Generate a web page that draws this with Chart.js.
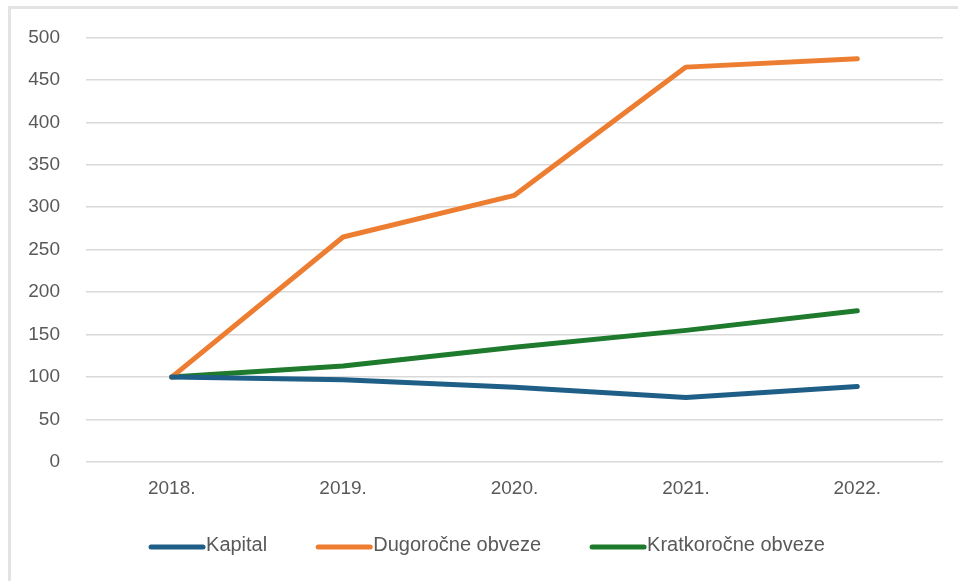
<!DOCTYPE html>
<html>
<head>
<meta charset="utf-8">
<script src="https://cdn.jsdelivr.net/npm/chart.js@4.4.1/dist/chart.umd.min.js"></script>
<style>
    html, body { margin: 0; padding: 0; background: #fff; }
    #wrap { position: relative; width: 958px; height: 581px; }
    #frame {
        position: absolute; left: 8px; top: 6px; right: 0; bottom: 0;
        border-top: 3px solid #e3e3e3; border-left: 3px solid #e3e3e3;
        pointer-events: none;
    }
</style>
</head>
<body>
<div id="wrap">
    <canvas id="chart" width="958" height="581"></canvas>
    <div id="frame"></div>
</div>
<script>
// --- Data ---
const years = ['2018.', '2019.', '2020.', '2021.', '2022.'];
const kapital = [100, 97, 88, 76, 89];
const dugorocne = [100, 265, 314, 465, 475];
const kratkorocne = [100, 113, 135, 155, 178];
const yTicks = [0, 50, 100, 150, 200, 250, 300, 350, 400, 450, 500];

const FONT = "'Liberation Sans', Arial, sans-serif";
const TEXT = '#595959';

function line(label, data, color) {
    return {
        label: label,
        data: data,
        borderColor: color,
        backgroundColor: color,
        borderWidth: 5,
        pointRadius: 0,
        tension: 0,
        borderJoinStyle: 'round',
        borderCapStyle: 'round'
    };
}

// --- Legend: line sample glued to its label, like the Excel original ---
const bottomLegend = {
    id: 'bottomLegend',
    afterDraw(chart) {
        const c = chart.ctx;
        const sample = 56, gap = 49, centerX = 487, y = 546;
        c.save();
        c.font = '20px ' + FONT;
        c.textBaseline = 'middle';
        const items = chart.data.datasets.map(ds => ({
            ds: ds,
            w: c.measureText(ds.label).width
        }));
        const total = items.reduce((s, it) => s + sample + 1 + it.w, 0) + gap * (items.length - 1);
        let x = centerX - total / 2;
        items.forEach(it => {
            c.strokeStyle = it.ds.borderColor;
            c.lineWidth = 5;
            c.lineCap = 'round';
            c.beginPath();
            c.moveTo(x + 2, y + 1);
            c.lineTo(x + sample - 2, y + 1);
            c.stroke();
            c.fillStyle = TEXT;
            c.fillText(it.ds.label, x + sample + 1, y - 1);
            x += sample + 1 + it.w + gap;
        });
        c.restore();
    }
};

const ctx = document.getElementById('chart').getContext('2d');

new Chart(ctx, {
    type: 'line',
    data: {
        labels: years,
        datasets: [
            line('Kapital', kapital, '#1f5f87'),
            line('Dugoročne obveze', dugorocne, '#ed7d31'),
            line('Kratkoročne obveze', kratkorocne, '#1e7a2c')
        ]
    },
    options: {
        responsive: false,
        animation: false,
        layout: { padding: { left: 0, right: 15, top: 26, bottom: 0 } },
        scales: {
            x: {
                offset: true,
                grid: { display: false, drawTicks: false },
                border: { display: false },
                ticks: { color: TEXT, font: { family: FONT, size: 19 }, padding: 15, maxRotation: 0 },
                afterFit: function (scale) { scale.height = 119; }
            },
            y: {
                min: 0,
                max: 500,
                afterBuildTicks: function (scale) {
                    scale.ticks = yTicks.map(v => ({ value: v }));
                },
                grid: { color: '#d9d9d9', lineWidth: 1.5, drawTicks: false },
                border: { display: false },
                ticks: { color: TEXT, font: { family: FONT, size: 19 }, padding: 26 },
                afterFit: function (scale) { scale.width = 86; }
            }
        },
        plugins: {
            legend: { display: false },
            tooltip: { enabled: false }
        }
    },
    plugins: [bottomLegend]
});
</script>
</body>
</html>
